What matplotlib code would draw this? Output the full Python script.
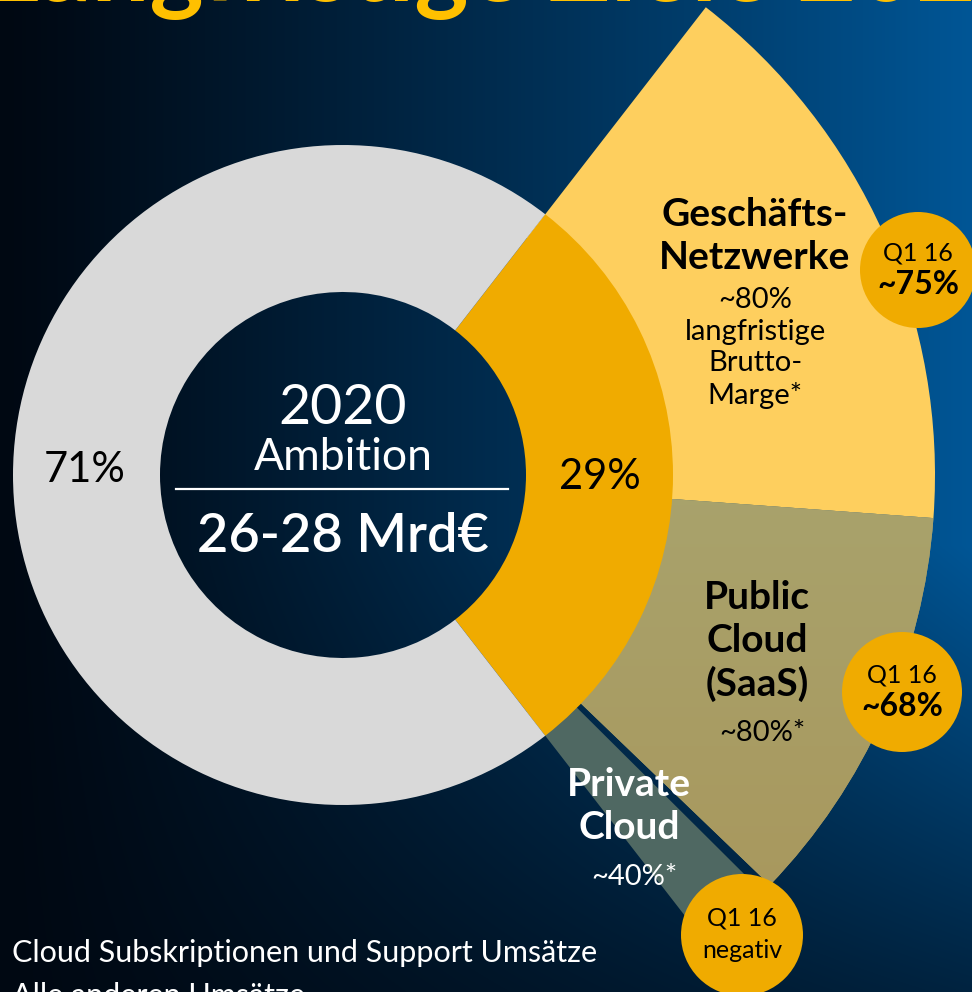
"""Cloud-Umsatzanteil 2020 Ambition: Donut mit aufgefächertem Cloud-Segment."""

import numpy as np
import matplotlib
matplotlib.use("Agg")
import matplotlib.pyplot as plt
from matplotlib import font_manager
from matplotlib.patches import Wedge, Circle

# --- data ---------------------------------------------------------------
donut_labels = ["Cloud Subskriptionen und Support Umsätze", "Alle anderen Umsätze"]
donut_shares = [29, 71]                     # % of 2020 revenue
fan_labels = ["Geschäfts-\nNetzwerke", "Public\nCloud\n(SaaS)", "Private\nCloud"]
fan_shares = [54, 38, 8]                    # share of the cloud segment (estimated)
fan_margin = ["~80%\nlangfristige\nBrutto-\nMarge*", "~80%*", "~40%*"]
q1_margin = ["~75%", "~68%", "negativ"]
ambition_year = "2020"
ambition_text = "Ambition"
ambition_value = "26-28 Mrd€"

W, H = 972, 992
CX, CY = 343, H - 475
R_OUT, R_IN, R_FAN = 330, 183, 592

names = {f.name for f in font_manager.fontManager.ttflist}
MAIN = "Lato" if "Lato" in names else "DejaVu Sans"
NARROW = "Liberation Sans Narrow" if "Liberation Sans Narrow" in names else MAIN

GRAY = "#d9d9d9"
ORANGE = "#f0ab00"
YELLOW = "#fecf5e"
PRIVATE = "#4f6862"

fig = plt.figure(figsize=(W / 100, H / 100), dpi=100)
ax = fig.add_axes([0, 0, 1, 1])
ax.set_xlim(0, W)
ax.set_ylim(0, H)
ax.set_aspect("equal")
ax.axis("off")

# background gradient (dark left -> blue right, darker toward the bottom)
xs = np.linspace(0, 1, W)[None, :, None]
ys = np.linspace(0, 1, H)[:, None, None]          # 0 = top
dark = np.array([0, 8, 18]) / 255
blue = np.array([0, 86, 150]) / 255
base = dark + (blue - dark) * xs ** 1.15
vert = np.clip(1 - (ys - 0.55) / 0.45 * 0.65, 0.35, 1)
bg = dark + (base - dark) * vert
ax.imshow(bg, extent=[0, W, 0, H], origin="upper", zorder=0)

# donut angles: cloud segment centred on 0 degrees
cloud_span = donut_shares[0] / 100 * 360
a_top, a_bot = cloud_span / 2, -cloud_span / 2

# fan wedges (cloud breakdown)
fan_colors = [YELLOW, "#a8a06a", PRIVATE]
angle = a_top
fan_angles = []
for share in fan_shares:
    a2 = angle - share / 100 * cloud_span
    fan_angles.append((a2, angle))
    angle = a2

for i, (a1, a2) in enumerate(fan_angles):
    if i == 2:
        a2 -= 1.0                                   # dark gap to Public Cloud
    w = Wedge((CX, CY), R_FAN, a1, a2, width=R_FAN - 300, zorder=2,
              facecolor=fan_colors[i], edgecolor="none")
    ax.add_patch(w)
    if i == 1:
        # olive gradient
        grad = np.linspace(0, 1, 200)[:, None, None]
        top_c = np.array([169, 164, 110]) / 255
        bot_c = np.array([168, 148, 88]) / 255
        img = top_c + (bot_c - top_c) * grad
        img = np.repeat(img, 2, axis=1)
        im = ax.imshow(img, extent=[CX, CX + R_FAN, CY - R_FAN, CY + 50],
                       origin="upper", zorder=2.1, aspect="auto")
        im.set_clip_path(w)

# donut ring
ax.add_patch(Wedge((CX, CY), R_OUT, a_bot, a_top, width=R_OUT - R_IN,
                   facecolor=ORANGE, edgecolor="none", zorder=3))
ax.add_patch(Wedge((CX, CY), R_OUT, a_top, a_bot + 360, width=R_OUT - R_IN,
                   facecolor=GRAY, edgecolor="none", zorder=3))

ax.text(85, H - 470, f"{donut_shares[1]}%", ha="center", va="center",
        fontsize=30, family=MAIN, color="black", zorder=5)
ax.text(600, H - 477, f"{donut_shares[0]}%", ha="center", va="center",
        fontsize=30, family=MAIN, color="black", zorder=5)

# centre
ax.text(CX, H - 408, ambition_year, ha="center", va="center", fontsize=40,
        family=MAIN, color="white", zorder=5)
ax.text(CX, H - 457, ambition_text, ha="center", va="center", fontsize=32,
        family=MAIN, color="white", zorder=5)
ax.plot([176, 508], [H - 489, H - 489], color="white", lw=1.6, zorder=5)
ax.text(CX, H - 536, ambition_value, ha="center", va="center", fontsize=39,
        family=MAIN, weight="semibold", color="white", zorder=5)

# fan labels
label_pos = [(755, 236), (757, 641), (629, 806)]
label_col = ["black", "black", "white"]
for lab, (x, y), c in zip(fan_labels, label_pos, label_col):
    ax.text(x, H - y, lab, ha="center", va="center", fontsize=28, weight="bold",
            family=MAIN, color=c, linespacing=1.28, zorder=5)
margin_pos = [(755, 348), (762, 733), (634, 877)]
for lab, (x, y), c in zip(fan_margin, margin_pos, label_col):
    ax.text(x, H - y, lab, ha="center", va="center", fontsize=21,
            family=MAIN, color=c, linespacing=1.27, zorder=5)

# Q1 16 badges
badge_pos = [(918, 270, 58), (902, 692, 60), (742, 935, 61)]
for val, (x, y, r) in zip(q1_margin, badge_pos):
    ax.add_patch(Circle((x, H - y), r, facecolor=ORANGE, edgecolor="none", zorder=6))
    ax.text(x, H - y + 17, "Q1 16", ha="center", va="center", fontsize=18,
            family=NARROW, color="black", zorder=7)
    bold = val != "negativ"
    ax.text(x, H - y - 15, val, ha="center", va="center",
            fontsize=23 if bold else 18, family=NARROW if not bold else MAIN,
            weight="bold" if bold else "normal", color="black", zorder=7)

# legend text (cut at the bottom edge, as in the source)
ax.text(12, H - 953, donut_labels[0], ha="left", va="center", fontsize=22,
        family=MAIN, color="white", zorder=5)
ax.text(12, H - 996, donut_labels[1], ha="left", va="center", fontsize=22,
        family=MAIN, color="white", zorder=5)

# title, cropped at the top edge
ax.text(-14, H - 1, "Langfristige Ziele 2020 Cloud", ha="left", va="baseline",
        fontsize=74, weight="bold", family=MAIN, color="#ffc000", zorder=5,
        clip_on=True)

fig.savefig("out.png", dpi=100)
